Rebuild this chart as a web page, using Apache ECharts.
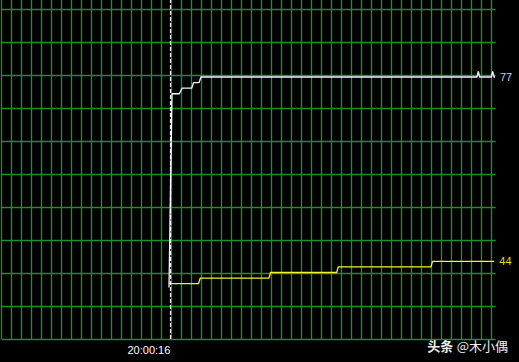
<!DOCTYPE html>
<html>
<head>
<meta charset="utf-8">
<script src="https://cdn.jsdelivr.net/npm/echarts@6/dist/echarts.min.js"></script>
<style>
html,body{margin:0;padding:0;background:#000;}
#c{width:519px;height:362px;}
</style>
</head>
<body>
<div id="c"></div>
<script>
// time in seconds after 20:00:00
const whiteTimes  = [16.73, 17.03, 17.76, 18.03, 19.00, 19.18, 19.73, 19.93, 47.53, 47.66, 47.80, 48.96, 49.10, 49.23, 49.33];
const whiteValues = [39.3, 74, 74, 75, 75, 76, 76, 77, 77, 78, 77, 77, 78, 77, 77];
const yellowTimes  = [16.73, 19.68, 19.86, 26.73, 26.88, 33.50, 33.65, 42.93, 43.08, 49.26];
const yellowValues = [40, 40, 41, 41, 42, 42, 43, 43, 44, 44];
const markerTime = 16.86;
const markerLabel = '20:00:16';
const watermark = ['头条', '@木小偶'];

const pair = (t, v) => t.map((x, i) => [x, v[i]]);
const GRID = '#1b9128';
const FONT = 'Liberation Sans, Arial, sans-serif';

const chart = echarts.init(document.getElementById('c'), null, {renderer: 'svg'});
chart.setOption({
  animation: false,
  backgroundColor: '#000',
  grid: {left: 1.7, right: 23.3, top: 0, bottom: 23},
  xAxis: [{
    type: 'value', min: 0, max: 49.4, interval: 1,
    axisLine: {show: false}, axisTick: {show: false}, axisLabel: {show: false},
    splitLine: {show: true, showMaxLine: false, lineStyle: {color: GRID, width: 1.3}}
  }],
  yAxis: [{
    type: 'value', min: 30.09, max: 90.79, show: false, splitLine: {show: false}
  }, {
    type: 'value', min: 0, max: 339 / 33, interval: 1,
    axisLine: {show: false}, axisTick: {show: false}, axisLabel: {show: false},
    splitLine: {show: true, showMaxLine: false, lineStyle: {color: GRID, width: 1.3}}
  }],
  series: [{
    type: 'line', yAxisIndex: 0, data: pair(yellowTimes, yellowValues),
    symbol: 'none', lineStyle: {color: '#f4f42a', width: 1.3},
    endLabel: {show: true, formatter: p => String(Math.round(p.value[1])), color: '#dede22', fontSize: 11, fontFamily: FONT, distance: 5},
    z: 3
  }, {
    type: 'line', yAxisIndex: 0, data: pair(whiteTimes, whiteValues),
    symbol: 'none', lineStyle: {color: '#f2f9ff', width: 1.3},
    endLabel: {show: true, formatter: p => String(Math.round(p.value[1])), color: '#b8cfe6', fontSize: 11, fontFamily: FONT, distance: 5},
    markLine: {
      silent: true, symbol: 'none', animation: false,
      label: {show: false},
      lineStyle: {color: '#ffffff', type: [4, 2], width: 1.2},
      data: [{xAxis: markerTime}]
    },
    z: 4
  }]
});

const mx = chart.convertToPixel({xAxisIndex: 0}, markerTime);
chart.setOption({
  graphic: [{
    type: 'text', x: mx, y: 350,
    style: {text: markerLabel, fill: '#ffffff', font: '11px ' + FONT, textAlign: 'right', textVerticalAlign: 'middle'}
  }, {
    type: 'text', x: 508, y: 345,
    style: {
      text: '{a|' + watermark[0] + '} {b|' + watermark[1] + '}',
      textAlign: 'right', textVerticalAlign: 'middle',
      rich: {
        a: {fill: '#eeeeee', fontSize: 13, fontWeight: 'bold', fontFamily: 'Noto Sans CJK SC'},
        b: {fill: '#eeeeee', fontSize: 13, fontFamily: 'Noto Sans CJK SC'}
      }
    }
  }]
});
</script>
</body>
</html>
